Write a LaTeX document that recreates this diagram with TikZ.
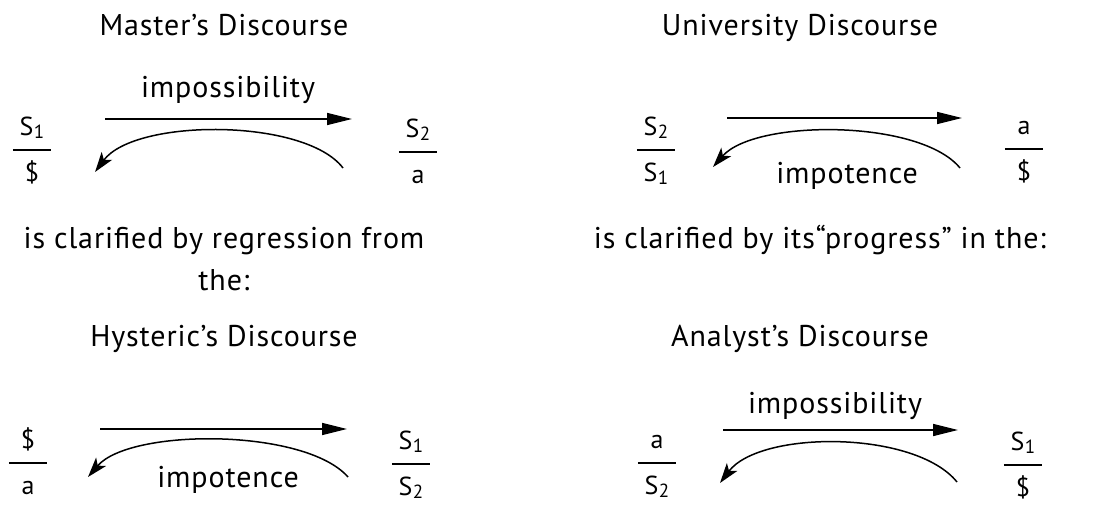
\documentclass[tikz,border=0pt]{standalone}
\usepackage{fontspec}
\setmainfont{PT Sans}
\newfontfamily\trk{PT Sans}[LetterSpace=3]
\usetikzlibrary{arrows.meta}
\newcommand\Ssub[1]{S\kern0.5pt\raisebox{-0.3ex}{\fontsize{19}{20}\selectfont #1}}
\newcommand\frc[5]{%
  \node[barnode] (#1) at (#2,#3) {};
  \draw[fracline] (#1.west) -- (#1.east);
  \node[fnum] (#1n) at (#2,#3-15) {#4};
  \node[fden] (#1d) at (#2,#3+31) {#5};
}
\tikzset{
  barnode/.style={inner sep=0pt, minimum width=38pt, minimum height=0pt},
  fracline/.style={line width=1.6pt},
  fnum/.style={anchor=base, inner sep=0pt, font=\fontsize{26}{30}\selectfont},
  fden/.style={anchor=base, inner sep=0pt, font=\fontsize{26}{30}\selectfont},
  title/.style={anchor=base, inner sep=0pt, font=\trk\fontsize{30}{34}\selectfont},
  lbl/.style={anchor=base, inner sep=0pt, font=\trk\fontsize{30}{34}\selectfont},
  body/.style={anchor=base, inner sep=0pt, align=center, font=\trk\fontsize{30}{42}\selectfont},
  straight/.style={line width=1.7pt, -{Triangle[length=25pt,width=12pt]}},
  curved/.style={line width=1.5pt, -{Stealth[length=20pt,width=13pt,inset=5pt]}},
}
\begin{document}
\begin{tikzpicture}[x=1pt,y=-1pt]
\useasboundingbox (0,0) rectangle (1097,514);
% titles
\node[title] (t1) at (224,35) {Master’s Discourse};
\node[title] (t2) at (800,35) {University Discourse};
\node[title] (t3) at (224,346) {Hysteric’s Discourse};
\node[title] (t4) at (800,346) {Analyst’s Discourse};
% middle text
\node[body] (m1) at (224,290) {is clarified by regression from\\the:};
\node[body] (m2) at (820,248) {is clarified by its“progress” in the:};
% Master's
\frc{A1}{32}{150}{\Ssub{1}}{\$}
\frc{A2}{418}{152}{\Ssub{2}}{a}
\coordinate (a1s) at (105,119); \coordinate (a1e) at (352,119);
\draw[straight] (a1s) -- (a1e);
\node[lbl] (l1) at (228,97) {impossibility};
\coordinate (c1s) at (343,168); \coordinate (c1e) at (95,172);
\draw[curved] (c1s) .. controls (305,118) and (135,118) .. (c1e);
% University
\frc{B1}{656}{150}{\Ssub{2}}{\Ssub{1}}
\frc{B2}{1024}{149}{a}{\$}
\coordinate (b1s) at (727,118); \coordinate (b1e) at (962,118);
\draw[straight] (b1s) -- (b1e);
\coordinate (c2s) at (960,168); \coordinate (c2e) at (713,167);
\draw[curved] (c2s) .. controls (920,119) and (755,119) .. (c2e);
\node[lbl] (l2) at (847,183) {impotence};
% Hysteric's
\frc{C1}{28}{463}{\$}{a}
\frc{C2}{411}{464}{\Ssub{1}}{\Ssub{2}}
\coordinate (h1s) at (100,429); \coordinate (h1e) at (347,429);
\draw[straight] (h1s) -- (h1e);
\coordinate (c3s) at (348,477); \coordinate (c3e) at (88,477);
\draw[curved] (c3s) .. controls (305,428) and (130,428) .. (c3e);
\node[lbl] (l3) at (228,487) {impotence};
% Analyst's
\frc{D1}{657}{463}{a}{\Ssub{2}}
\frc{D2}{1023}{465}{\Ssub{1}}{\$}
\coordinate (d1s) at (723,430); \coordinate (d1e) at (958,430);
\draw[straight] (d1s) -- (d1e);
\node[lbl] (l4) at (835,413) {impossibility};
\coordinate (c4s) at (957,482); \coordinate (c4e) at (720,483);
\draw[curved] (c4s) .. controls (915,430) and (760,430) .. (c4e);
\end{tikzpicture}
\end{document}
